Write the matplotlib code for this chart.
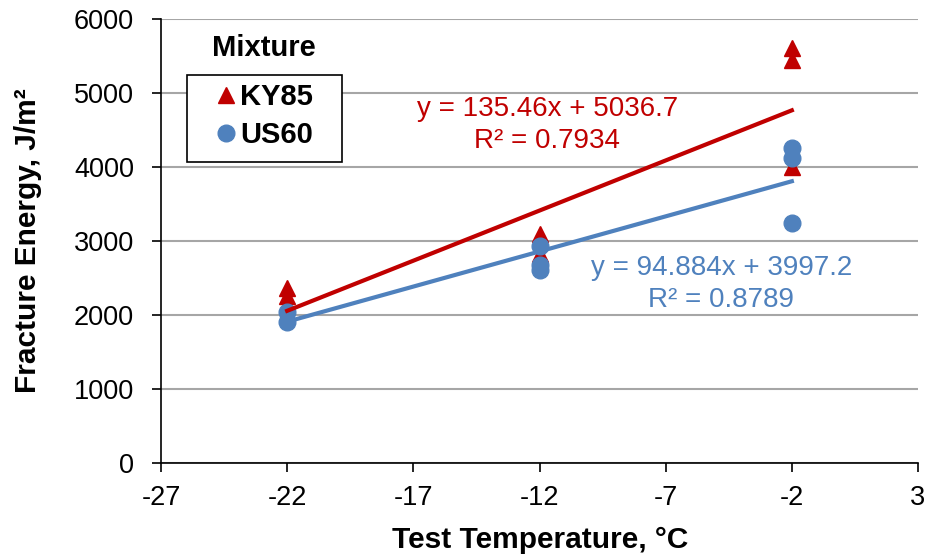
import matplotlib
matplotlib.use("Agg")
import matplotlib.pyplot as plt
import numpy as np
from matplotlib.lines import Line2D
from matplotlib.patches import Rectangle

plt.rcParams['font.family'] = ['Liberation Sans', 'DejaVu Sans']
plt.rcParams['axes.unicode_minus'] = False

# Data
ky85_temp = [-22, -22, -12, -12, -2, -2, -2]
ky85_energy = [2365, 2257, 3100, 2820, 5610, 5450, 4000]
us60_temp = [-22, -22, -12, -12, -12, -2, -2, -2]
us60_energy = [2040, 1905, 2930, 2680, 2610, 4260, 4120, 3240]

ky85_fit = (135.46, 5036.7)
us60_fit = (94.884, 3997.2)
fit_range = [-22, -2]

xticks = [-27, -22, -17, -12, -7, -2, 3]
yticks = [0, 1000, 2000, 3000, 4000, 5000, 6000]

red = '#C00000'
blue = '#4F81BD'

W, H = 930, 559
fig = plt.figure(figsize=(W/100, H/100), dpi=100)
ax = fig.add_axes([161/W, 1-463/H, (918-161)/W, (463-19)/H])

ax.set_xlim(-27, 3)
ax.set_ylim(0, 6000)
ax.set_xticks(xticks)
ax.set_yticks(yticks)
ax.yaxis.grid(True, color='#A6A6A6', linewidth=1.5)
ax.set_axisbelow(True)
for s in ['top', 'right']:
    ax.spines[s].set_visible(False)
for s in ['left', 'bottom']:
    ax.spines[s].set_color('black')
    ax.spines[s].set_linewidth(1.2)
ax.tick_params(axis='both', labelsize=19.5, direction='out', length=6.5, width=1.2)
ax.tick_params(axis='x', pad=9)
ax.tick_params(axis='y', pad=13)

xf = np.array(fit_range, dtype=float)
ax.plot(xf, ky85_fit[0]*xf + ky85_fit[1], color=red, lw=3, zorder=3)
ax.plot(xf, us60_fit[0]*xf + us60_fit[1], color=blue, lw=3, zorder=3)

ax.plot(ky85_temp, ky85_energy, '^', color=red, markersize=12, linestyle='none', zorder=2)
ax.plot(us60_temp, us60_energy, 'o', color=blue, markersize=12, linestyle='none', zorder=2)

fig.text(540/W, 1-540/H, 'Test Temperature, °C', fontsize=21.5, fontweight='bold',
         ha='center', va='center')
fig.text(28/W, 1-241/H, 'Fracture Energy, J/m²', fontsize=21.5, fontweight='bold',
         ha='center', va='center', rotation=90)

ax.text(-11.7, 4780, 'y = 135.46x + 5036.7', color=red, fontsize=20, ha='center', va='center')
ax.text(-11.7, 4350, 'R² = 0.7934', color=red, fontsize=20, ha='center', va='center')
ax.text(-4.8, 2630, 'y = 94.884x + 3997.2', color=blue, fontsize=20, ha='center', va='center')
ax.text(-4.8, 2200, 'R² = 0.8789', color=blue, fontsize=20, ha='center', va='center')

# Legend (frame drawn separately to match the reference's wide box)
fig.patches.append(Rectangle((187/W, 1-162/H), (342-187)/W, (162-75)/H,
                             transform=fig.transFigure, facecolor='white',
                             edgecolor='black', linewidth=1.2, zorder=4))
handles = [Line2D([], [], marker='^', color=red, linestyle='none', markersize=12),
           Line2D([], [], marker='o', color=blue, linestyle='none', markersize=12)]
leg = fig.legend(handles, ['KY85', 'US60'], loc='upper left',
                 bbox_to_anchor=(211/W, 1-83/H),
                 prop={'weight': 'bold', 'size': 21}, frameon=False,
                 handletextpad=0.0, borderpad=0, labelspacing=0.35,
                 handlelength=1.0, borderaxespad=0)
leg.set_zorder(5)
fig.text(264/W, 1-48/H, 'Mixture', fontsize=21, fontweight='bold', ha='center', va='center')

fig.savefig('out.png', dpi=100)
